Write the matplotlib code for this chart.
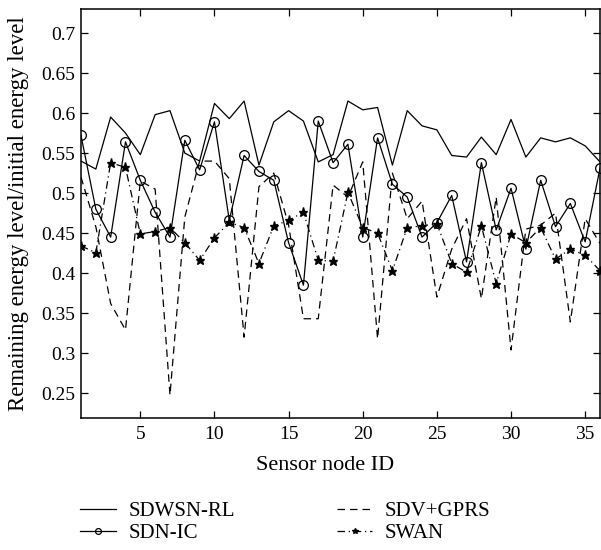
import numpy as np
import matplotlib
matplotlib.use("Agg")
import matplotlib.pyplot as plt

node_ids = list(range(1, 37))

sdwsn_rl = [0.540, 0.530, 0.595, 0.575, 0.548, 0.598, 0.603, 0.550, 0.540, 0.612,
            0.593, 0.615, 0.535, 0.589, 0.603, 0.590, 0.539, 0.548, 0.615, 0.604,
            0.607, 0.535, 0.603, 0.584, 0.579, 0.547, 0.545, 0.570, 0.548, 0.592,
            0.545, 0.569, 0.564, 0.569, 0.559, 0.539]

sdn_ic = [0.572, 0.480, 0.445, 0.564, 0.516, 0.476, 0.445, 0.566, 0.529, 0.589,
          0.466, 0.547, 0.527, 0.516, 0.438, 0.385, 0.590, 0.538, 0.561, 0.445,
          0.569, 0.511, 0.495, 0.445, 0.463, 0.497, 0.414, 0.538, 0.454, 0.506,
          0.430, 0.516, 0.458, 0.487, 0.439, 0.531]

sdv_gprs = [0.520, 0.458, 0.362, 0.329, 0.515, 0.505, 0.2475, 0.470, 0.540, 0.540,
            0.518, 0.320, 0.508, 0.525, 0.460, 0.343, 0.343, 0.510, 0.495, 0.539,
            0.318, 0.525, 0.468, 0.490, 0.370, 0.430, 0.468, 0.368, 0.495, 0.304,
            0.455, 0.460, 0.475, 0.339, 0.468, 0.437]

swan = [0.434, 0.4255, 0.538, 0.532, 0.449, 0.452, 0.457, 0.438, 0.416, 0.444,
        0.4635, 0.457, 0.412, 0.459, 0.466, 0.476, 0.416, 0.415, 0.501, 0.457,
        0.450, 0.403, 0.457, 0.459, 0.462, 0.412, 0.401, 0.459, 0.387, 0.449,
        0.438, 0.457, 0.4175, 0.430, 0.4225, 0.403]

series_names = ["SDWSN-RL", "SDN-IC", "SDV+GPRS", "SWAN"]
x_ticks = [5, 10, 15, 20, 25, 30, 35]
y_ticks = [0.25, 0.3, 0.35, 0.4, 0.45, 0.5, 0.55, 0.6, 0.65, 0.7]

plt.rcParams['font.family'] = ['Liberation Serif', 'DejaVu Serif']

fig = plt.figure(figsize=(6.01, 5.5), dpi=100)
ax = fig.add_axes([81/601, 1-418/550, (600-81)/601, (418-9)/550])

lw = 0.9
ax.plot(node_ids, sdwsn_rl, color='black', lw=lw, label=series_names[0])
ax.plot(node_ids, sdn_ic, color='black', lw=lw, marker='o', ms=7,
        mfc='none', mec='black', mew=0.9, label=series_names[1])
ax.plot(node_ids, sdv_gprs, color='black', lw=lw, ls=(0, (6, 4)), label=series_names[2])
ax.plot(node_ids, swan, color='black', lw=lw, ls=(0, (6, 3, 1, 3)), marker='*', ms=6.5,
        mfc='black', mec='black', label=series_names[3])

ax.set_xlim(1, 36)
ax.set_ylim(0.219, 0.73)
ax.set_xticks(x_ticks)
ax.set_yticks(y_ticks)
ax.set_yticklabels([f"{v:g}" for v in y_ticks])
ax.tick_params(direction='in', top=True, right=True, length=5, width=0.9, labelsize=14)
ax.tick_params(axis='y', pad=4)
ax.tick_params(axis='x', pad=6)
for s in ax.spines.values():
    s.set_linewidth(1.1)

ax.set_xlabel("Sensor node ID", fontsize=16, labelpad=9)
ax.xaxis.label.set_x((325 - 81) / 519)
ax.set_ylabel("Remaining energy level/initial energy level", fontsize=16.5, labelpad=9)

leg = fig.legend(loc='upper left', bbox_to_anchor=(0.12, 0.103), ncol=2, frameon=False,
                 fontsize=15, handlelength=1.7, markerscale=0.6, columnspacing=4.9,
                 labelspacing=0.12, handletextpad=0.6, borderaxespad=0)

fig.savefig("out.png", dpi=100)
